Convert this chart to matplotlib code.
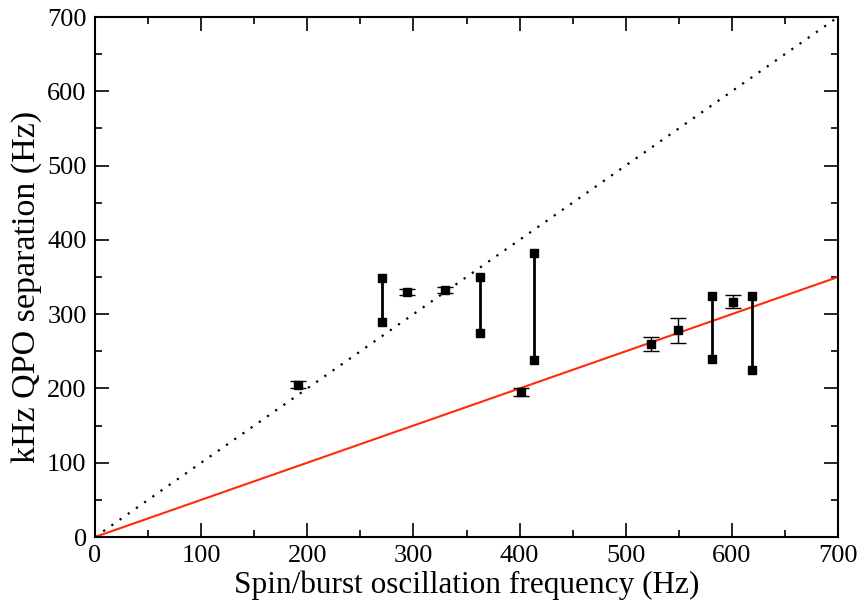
import numpy as np
import matplotlib
matplotlib.use("Agg")
import matplotlib.pyplot as plt
from matplotlib.ticker import MultipleLocator

# single measurements with error bars
spin = [191, 294, 330, 401, 524, 549, 601]
sep = [205, 330, 333, 195, 260, 278, 317]
sep_err = [5, 4, 4, 5, 9, 17, 9]

# sources where the separation varies over a range
range_spin = [270, 363, 414, 581, 619]
range_low = [289, 275, 238, 240, 225]
range_high = [348, 350, 382, 325, 325]

plt.rcParams['font.family'] = ['Liberation Serif', 'DejaVu Serif']

fig = plt.figure(figsize=(8.59, 6.0), dpi=100)
ax = fig.add_axes([95 / 859, 63 / 600, 743 / 859, 520 / 600])

line = np.array([0, 700])
ax.plot(line, line, color='black', linestyle=(0, (1, 3.5)), lw=1.6)
ax.plot(line, line / 2, color='#ff2a0a', lw=1.5)

for x, lo, hi in zip(range_spin, range_low, range_high):
    ax.plot([x, x], [lo, hi], color='black', lw=2, marker='s', ms=6, zorder=3)

ax.errorbar(spin, sep, yerr=sep_err, fmt='s', color='black', ms=6,
            ecolor='black', elinewidth=1, capsize=6, capthick=1, zorder=3)

ax.set_xlim(0, 700)
ax.set_ylim(0, 700)
ax.xaxis.set_major_locator(MultipleLocator(100))
ax.yaxis.set_major_locator(MultipleLocator(100))
ax.xaxis.set_minor_locator(MultipleLocator(50))
ax.yaxis.set_minor_locator(MultipleLocator(50))
ax.tick_params(which='both', direction='in', top=True, right=True, width=1.2)
ax.tick_params(which='major', length=10, labelsize=19, pad=6)
ax.tick_params(which='minor', length=5)
for s in ax.spines.values():
    s.set_linewidth(1.5)

ax.set_xlabel('Spin/burst oscillation frequency (Hz)', fontsize=22.5, labelpad=2)
ax.set_ylabel('kHz QPO separation (Hz)', fontsize=24.5)
ax.yaxis.set_label_coords(-0.071, 0.48)

fig.savefig('out.png', dpi=100)
